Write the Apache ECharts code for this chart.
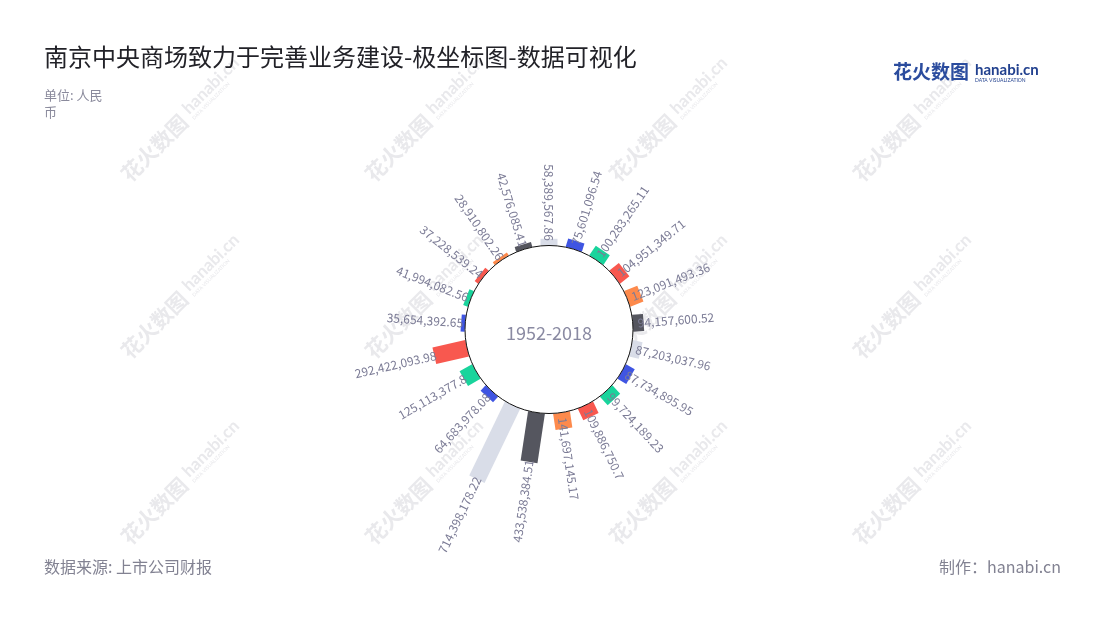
<!DOCTYPE html>
<html>
<head>
<meta charset="utf-8">
<script src="https://cdn.jsdelivr.net/npm/echarts@6/dist/echarts.min.js"></script>
<style>
html,body{margin:0;padding:0;background:#fff;}
#main{width:1100px;height:620px;}
</style>
</head>
<body>
<div id="main"></div>
<script>
// ---- data (clockwise order) ----
const categories = ['1','2','3','4','5','6','7','8','9','10','11','12','13','14','15','16','17','18','19','20','21'];
const values = [
  35654392.65, 41994082.56, 37228539.24, 28910802.26, 42576085.41,
  58389567.86, 75601096.54, 100283265.11, 104951349.71, 123091493.36,
  94157600.52, 87203037.96, 87734895.95, 99724189.23, 109886750.7,
  141697145.17, 433538384.51, 714398178.22, 64683978.08, 125113377.8,
  292422093.98
];
const palette = ['#3f55e2', '#19d49c', '#f8584f', '#fd8a4c', '#55565f', '#d9dde8'];
const centerLabel = '1952-2018';
const titleText = '南京中央商场致力于完善业务建设-极坐标图-数据可视化';
const unitText = '单位: 人民币';
const sourceText = '数据来源: 上市公司财报';
const makerText = '制作：hanabi.cn';

const LABEL_COLOR = '#7c7c96';
const BAR_W = 17;
const N = categories.length;
const STEP = 360 / N;

function fmt(v) {
  return v.toLocaleString('en-US', {maximumFractionDigits: 2});
}

function renderItem(params, api) {
  const val = api.value(0);
  const idx = api.value(1);
  const cs = params.coordSys;
  const cx = cs.cx, cy = cs.cy;
  const p0 = api.coord([0, idx]);
  const p1 = api.coord([val, idx]);
  let dx = p0[0] - cx, dy = p0[1] - cy;
  const len = Math.hypot(dx, dy);
  dx /= len; dy /= len;
  const nx = -dy, ny = dx, hw = BAR_W / 2;
  const pts = [
    [p0[0] + nx * hw, p0[1] + ny * hw],
    [p1[0] + nx * hw, p1[1] + ny * hw],
    [p1[0] - nx * hw, p1[1] - ny * hw],
    [p0[0] - nx * hw, p0[1] - ny * hw]
  ];
  const ang = Math.atan2(-dy, dx);
  const right = dx > 1e-6;
  let lx, ly, rot, align;
  if (right) {
    lx = p0[0] + dx * 5; ly = p0[1] + dy * 5; rot = ang; align = 'left';
  } else {
    lx = p1[0] - dx * 2; ly = p1[1] - dy * 2; rot = ang - Math.PI; align = 'right';
  }
  return {
    type: 'group',
    children: [
      {type: 'polygon', shape: {points: pts}, style: {fill: palette[idx % palette.length]}},
      {type: 'text', x: lx, y: ly, rotation: rot, z2: 10,
        style: {text: fmt(val), align: align, verticalAlign: 'middle', fill: LABEL_COLOR,
          fontSize: 12, fontFamily: '"Noto Sans CJK SC", "Noto Sans", sans-serif'}}
    ]
  };
}

// watermarks
const wmX = [132, 376, 620, 864];
const wmY = [185, 362, 548];
const wm = [];
wmX.forEach(x => wmY.forEach(y => {
  wm.push({
    type: 'group', x: x, y: y, rotation: Math.PI / 4, z: 0, silent: true,
    children: [
      {type: 'text', x: 0, y: 0, style: {text: '花火数图', fontSize: 21, fontWeight: 'bold', fill: '#e9e9ec', fontFamily: '"Noto Sans CJK SC", sans-serif', verticalAlign: 'bottom'}},
      {type: 'text', x: 90, y: -6, style: {text: 'hanabi.cn', fontSize: 17, fontWeight: 'bold', fill: '#e9e9ec', fontFamily: 'Lato, sans-serif', verticalAlign: 'bottom'}},
      {type: 'text', x: 90, y: -1, style: {text: 'DATA VISUALIZATION', fontSize: 5, fill: '#e9e9ec', fontFamily: 'Lato, sans-serif', verticalAlign: 'bottom'}}
    ]
  });
}));
// logo
wm.push({
  type: 'group', x: 893, y: 72, z: 5, silent: true,
  children: [
    {type: 'text', x: 0, y: 0, style: {text: '花火数图', fontSize: 19, fontWeight: 'bold', fill: '#2b4c9e', fontFamily: '"Noto Sans CJK SC", sans-serif', verticalAlign: 'middle'}},
    {type: 'text', x: 82, y: -2, style: {text: 'hanabi.cn', fontSize: 15, fontWeight: 'bold', fill: '#22418f', fontFamily: 'Lato, sans-serif', verticalAlign: 'middle'}},
    {type: 'text', x: 82, y: 8, style: {text: 'DATA VISUALIZATION', fontSize: 5, fill: '#22418f', fontFamily: 'Lato, sans-serif', verticalAlign: 'middle'}}
  ]
});

const chart = echarts.init(document.getElementById('main'), null, {renderer: 'canvas'});
const option = {
  backgroundColor: '#fff',
  animation: false,
  title: [
    {text: titleText, subtext: unitText, left: 44, top: 44, itemGap: 17, padding: 0,
      textStyle: {fontSize: 24, fontWeight: 'normal', color: '#222228', lineHeight: 26,
        fontFamily: '"Noto Sans CJK SC", sans-serif'},
      subtextStyle: {fontSize: 13, color: '#8a8a9c', lineHeight: 17, width: 66, overflow: 'break',
        fontFamily: '"Noto Sans CJK SC", sans-serif'}},
    {text: sourceText, left: 44, top: 556, padding: 0,
      textStyle: {fontSize: 16, fontWeight: 'normal', color: '#828292', lineHeight: 22,
        fontFamily: '"Noto Sans CJK SC", sans-serif'}},
    {text: makerText, right: 39, top: 556, padding: 0,
      textStyle: {fontSize: 16, fontWeight: 'normal', color: '#828292', lineHeight: 22,
        fontFamily: '"Noto Sans CJK SC", sans-serif'}}
  ],
  graphic: wm,
  polar: {center: [549, 329.5], radius: [84, 176]},
  angleAxis: {
    type: 'category', data: categories, boundaryGap: false,
    startAngle: 90 + 5 * STEP, clockwise: true, show: false
  },
  radiusAxis: {type: 'value', min: 0, max: 800000000, show: false},
  series: [
    {
      type: 'custom', coordinateSystem: 'polar', z: 2,
      encode: {radius: 0, angle: 1},
      data: values.map((v, i) => [v, i]),
      renderItem: renderItem, silent: true
    },
    {
      type: 'pie', center: [549, 329.5], radius: [0, 84], z: 5, silent: true,
      startAngle: 90,
      data: [{value: 1, name: centerLabel}],
      itemStyle: {color: '#ffffff', borderColor: '#111', borderWidth: 1},
      label: {show: true, position: 'center', formatter: '{a|{b}}',
        rich: {a: {color: '#8a8aa2', fontSize: 18, padding: [8, 0, 0, 0], fontFamily: '"Noto Sans CJK SC", sans-serif'}}},
      labelLine: {show: false},
      emphasis: {disabled: true}
    }
  ]
};
chart.setOption(option);
</script>
</body>
</html>
